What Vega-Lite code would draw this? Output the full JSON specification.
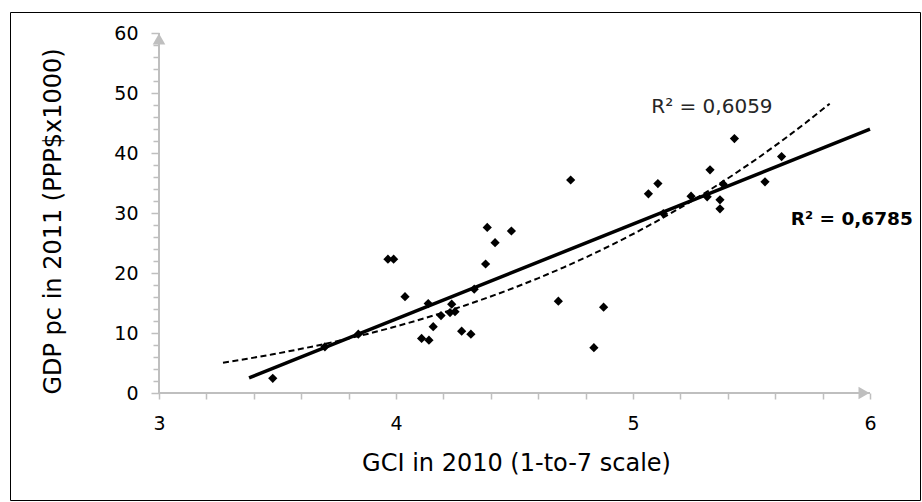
{
  "$schema": "https://vega.github.io/schema/vega-lite/v6.json",
  "width": 910,
  "height": 488,
  "autosize": {"type": "none"},
  "padding": {"left": 10, "top": 12, "right": 2, "bottom": 2},
  "background": "white",
  "config": {
    "view": {"stroke": "black", "strokeWidth": 1},
    "font": "DejaVu Sans",
    "axis": {"labelOverlap": false}
  },
  "resolve": {"axis": {"y": "independent"}},
  "data": {
    "values": [
      {"gci": 3.48, "gdp": 2.45},
      {"gci": 3.70, "gdp": 7.7},
      {"gci": 3.841, "gdp": 9.8},
      {"gci": 3.966, "gdp": 22.3},
      {"gci": 3.99, "gdp": 22.3},
      {"gci": 4.038, "gdp": 16.05},
      {"gci": 4.136, "gdp": 14.9},
      {"gci": 4.108, "gdp": 9.1},
      {"gci": 4.139, "gdp": 8.8},
      {"gci": 4.157, "gdp": 11.05},
      {"gci": 4.19, "gdp": 12.9},
      {"gci": 4.235, "gdp": 14.8},
      {"gci": 4.228, "gdp": 13.4},
      {"gci": 4.249, "gdp": 13.55},
      {"gci": 4.277, "gdp": 10.3},
      {"gci": 4.316, "gdp": 9.8},
      {"gci": 4.33, "gdp": 17.3},
      {"gci": 4.378, "gdp": 21.5},
      {"gci": 4.385, "gdp": 27.6},
      {"gci": 4.418, "gdp": 25.05},
      {"gci": 4.487, "gdp": 27.0},
      {"gci": 4.685, "gdp": 15.3},
      {"gci": 4.737, "gdp": 35.5},
      {"gci": 4.835, "gdp": 7.55},
      {"gci": 4.876, "gdp": 14.3},
      {"gci": 5.065, "gdp": 33.2},
      {"gci": 5.105, "gdp": 34.9},
      {"gci": 5.128, "gdp": 29.9},
      {"gci": 5.245, "gdp": 32.8},
      {"gci": 5.313, "gdp": 32.7},
      {"gci": 5.325, "gdp": 37.2},
      {"gci": 5.367, "gdp": 32.2},
      {"gci": 5.367, "gdp": 30.7},
      {"gci": 5.381, "gdp": 34.8},
      {"gci": 5.428, "gdp": 42.4},
      {"gci": 5.557, "gdp": 35.2},
      {"gci": 5.627, "gdp": 39.4}
    ]
  },
  "layer": [
    {
      "mark": {"type": "point", "shape": "diamond", "filled": true, "color": "black", "size": 85, "opacity": 1},
      "encoding": {
        "x": {
          "field": "gci", "type": "quantitative", "title": "GCI in 2010 (1-to-7 scale)",
          "scale": {"domain": [2.3713, 6.211], "nice": false, "zero": false},
          "axis": {
            "orient": "bottom", "offset": -107, "domain": false, "grid": false,
            "values": [3, 3.2, 3.4, 3.6, 3.8, 4, 4.2, 4.4, 4.6, 4.8, 5, 5.2, 5.4, 5.6, 5.8, 6],
            "labelExpr": "abs(datum.value - round(datum.value)) < 0.001 ? format(datum.value, 'd') : ''",
            "labelOverlap": false,
            "tickSize": 6, "tickColor": "#BFBFBF", "tickWidth": 1.5,
            "labelFontSize": 19, "labelColor": "#000000", "labelPadding": 15, "labelFlush": false,
            "titleFontSize": 24, "titleFontWeight": "normal", "titleColor": "#000000",
            "titleX": 506, "titleY": 70, "titleBaseline": "middle", "titleAlign": "center"
          }
        },
        "y": {
          "field": "gdp", "type": "quantitative", "title": "GDP pc in 2011  (PPP$x1000)",
          "scale": {"domain": [-17.833, 63.5], "nice": false, "zero": false},
          "axis": {
            "orient": "left", "offset": -149, "domain": false, "grid": false,
            "values": [0, 10, 20, 30, 40, 50, 60],
            "format": "d",
            "labelOverlap": false,
            "tickSize": 8,
            "tickColor": "#BFBFBF", "tickWidth": 1.5,
            "labelFontSize": 19, "labelColor": "#000000", "labelPadding": 13,
            "titleFontSize": 24, "titleFontWeight": "normal", "titleColor": "#000000",
            "titleX": -106, "titleY": 209, "titleAngle": -90, "titleBaseline": "middle", "titleAlign": "center"
          }
        }
      }
    },
    {
      "data": {"values": [{}]},
      "mark": {"type": "rule", "color": "#BFBFBF", "strokeWidth": 2},
      "encoding": {
        "x": {"datum": 3, "type": "quantitative"},
        "x2": {"datum": 6},
        "y": {"datum": 0, "type": "quantitative", "axis": null}
      }
    },
    {
      "data": {"values": [{}]},
      "mark": {"type": "rule", "color": "#BFBFBF", "strokeWidth": 2},
      "encoding": {
        "x": {"datum": 3, "type": "quantitative"},
        "y": {"datum": 0, "type": "quantitative", "axis": null},
        "y2": {"datum": 60}
      }
    },
    {
      "data": {"values": [{}]},
      "mark": {"type": "point", "shape": "triangle-right", "filled": true, "color": "#BFBFBF", "opacity": 1, "size": 160, "xOffset": -6},
      "encoding": {
        "x": {"datum": 6, "type": "quantitative"},
        "y": {"datum": 0, "type": "quantitative", "axis": null}
      }
    },
    {
      "data": {"values": [{}]},
      "mark": {"type": "point", "shape": "triangle-up", "filled": true, "color": "#BFBFBF", "opacity": 1, "size": 160, "yOffset": 6},
      "encoding": {
        "x": {"datum": 3, "type": "quantitative"},
        "y": {
          "datum": 60, "type": "quantitative",
          "axis": {
            "orient": "left", "offset": -149, "domain": false, "grid": false, "labels": false, "title": null,
            "values": [2, 4, 6, 8, 12, 14, 16, 18, 22, 24, 26, 28, 32, 34, 36, 38, 42, 44, 46, 48, 52, 54, 56, 58],
            "tickSize": 6, "tickColor": "#BFBFBF", "tickWidth": 1.5
          }
        }
      }
    },
    {
      "transform": [{"regression": "gdp", "on": "gci", "extent": [3.38, 6.0]}],
      "mark": {"type": "line", "color": "black", "strokeWidth": 3.5},
      "encoding": {
        "x": {"field": "gci", "type": "quantitative", "title": "GCI in 2010 (1-to-7 scale)"},
        "y": {"field": "gdp", "type": "quantitative", "axis": null}
      }
    },
    {
      "transform": [{"regression": "gdp", "on": "gci", "method": "pow", "extent": [3.27, 5.83]}],
      "mark": {"type": "line", "color": "black", "strokeWidth": 2, "strokeDash": [6, 3.5]},
      "encoding": {
        "x": {"field": "gci", "type": "quantitative", "title": "GCI in 2010 (1-to-7 scale)"},
        "y": {"field": "gdp", "type": "quantitative", "axis": null}
      }
    },
    {
      "data": {"values": [{}]},
      "mark": {"type": "text", "fontSize": 20, "color": "#262626", "align": "center", "baseline": "middle"},
      "encoding": {
        "x": {"datum": 5.333, "type": "quantitative"},
        "y": {"datum": 47.7, "type": "quantitative", "axis": null},
        "text": {"value": "R² = 0,6059"}
      }
    },
    {
      "data": {"values": [{}]},
      "mark": {"type": "text", "fontSize": 18.5, "fontWeight": "bold", "color": "black", "align": "center", "baseline": "middle"},
      "encoding": {
        "x": {"datum": 5.923, "type": "quantitative"},
        "y": {"datum": 29.0, "type": "quantitative", "axis": null},
        "text": {"value": "R² = 0,6785"}
      }
    }
  ]
}
